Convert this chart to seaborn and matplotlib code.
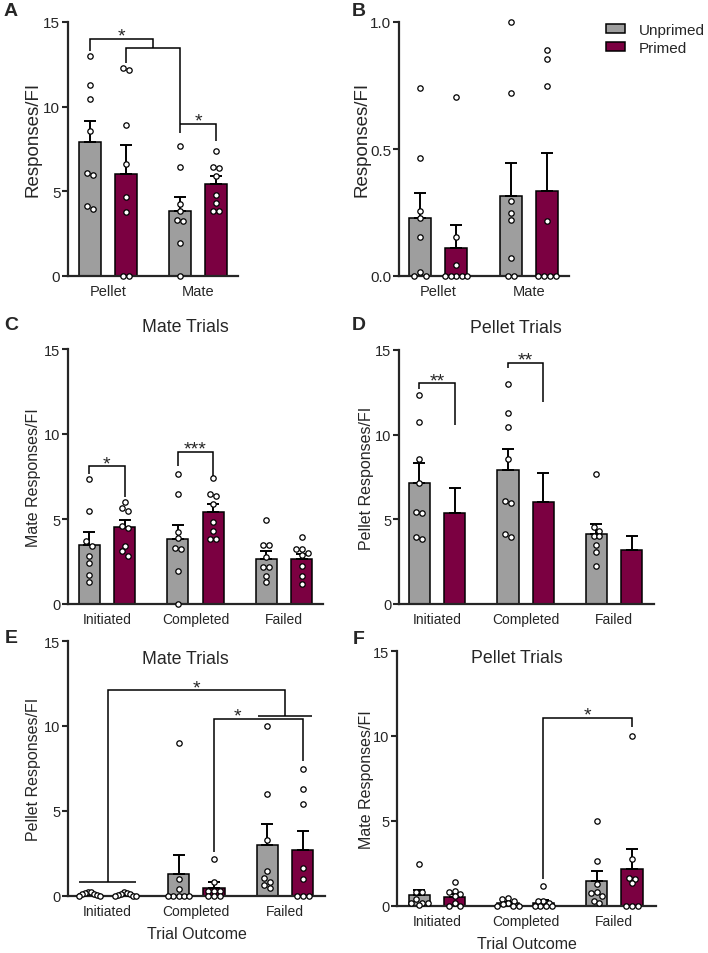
#!/usr/bin/env python3
"""Six-panel bar + scatter figure (Unprimed vs Primed responses/FI)."""

import warnings

import matplotlib
matplotlib.use('Agg')
import matplotlib.pyplot as plt
from matplotlib.patches import Patch
import numpy as np
import pandas as pd
import seaborn as sns

warnings.filterwarnings('ignore')

# ---------------------------------------------------------------- data
GROUPS = ['Unprimed', 'Primed']
COLORS = {'Unprimed': '#9e9e9e', 'Primed': '#7b0041'}
OFFSET = {'Unprimed': -0.2, 'Primed': 0.2}

# A: responses/FI by reward type
A_CATS = ['Pellet', 'Mate']
A_MEAN_U = [7.92, 3.82]
A_MEAN_P = [6.03, 5.42]
A_SEM_U = [1.21, 0.85]
A_SEM_P = [1.73, 0.48]
A_PTS_U = [[13.0, 11.3, 10.45, 8.55, 6.1, 5.95, 4.15, 3.95],
           [7.65, 6.45, 4.25, 3.86, 3.3, 3.22, 1.96, 0.0]]
A_PTS_P = [[12.3, 12.15, 8.9, 6.6, 4.65, 3.8, 0.0, 0.0],
           [7.4, 6.45, 6.35, 5.9, 4.8, 4.3, 3.85, 3.85]]

# B
B_CATS = ['Pellet', 'Mate']
B_MEAN_U = [0.23, 0.315]
B_MEAN_P = [0.112, 0.335]
B_SEM_U = [0.095, 0.13]
B_SEM_P = [0.088, 0.15]
B_PTS_U = [[0.74, 0.465, 0.255, 0.23, 0.155, 0.015, 0.0, 0.0],
           [1.0, 0.72, 0.295, 0.25, 0.22, 0.07, 0.0, 0.0]]
B_PTS_P = [[0.705, 0.155, 0.045, 0.0, 0.0, 0.0, 0.0, 0.0],
           [0.89, 0.855, 0.75, 0.215, 0.0, 0.0, 0.0, 0.0]]

OUTCOMES = ['Initiated', 'Completed', 'Failed']

# C: mate trials, mate responses
C_MEAN_U = [3.47, 3.82, 2.65]
C_MEAN_P = [4.51, 5.42, 2.65]
C_SEM_U = [0.78, 0.85, 0.49]
C_SEM_P = [0.45, 0.48, 0.30]
C_PTS_U = [[7.35, 5.47, 3.7, 3.43, 2.85, 2.4, 1.73, 1.27],
           [7.65, 6.45, 4.25, 3.86, 3.3, 3.22, 1.96, 0.0],
           [4.96, 3.5, 3.5, 2.75, 2.2, 2.2, 1.67, 1.27]]
C_PTS_P = [[6.0, 5.65, 5.45, 4.6, 4.5, 3.4, 3.1, 2.85],
           [7.4, 6.45, 6.35, 5.9, 4.8, 4.3, 3.85, 3.85],
           [3.95, 3.25, 3.25, 3.0, 2.9, 2.25, 1.65, 1.15]]

# D: pellet trials, pellet responses (no primed points shown)
D_MEAN_U = [7.14, 7.92, 4.11]
D_MEAN_P = [5.37, 6.03, 3.2]
D_SEM_U = [1.16, 1.21, 0.61]
D_SEM_P = [1.47, 1.73, 0.83]
D_PTS_U = [[12.35, 10.75, 8.55, 7.15, 5.45, 5.4, 3.95, 3.85],
           [13.0, 11.3, 10.45, 8.55, 6.1, 5.95, 4.15, 3.95],
           [7.67, 4.52, 4.3, 4.0, 4.0, 3.5, 3.05, 2.26]]
D_PTS_P = [[], [], []]

# E: mate trials, pellet responses
E_MEAN_U = [0.11, 1.28, 2.98]
E_MEAN_P = [0.08, 0.49, 2.7]
E_SEM_U = [0.03, 1.13, 1.24]
E_SEM_P = [0.03, 0.33, 1.14]
E_PTS_U = [[0.25, 0.22, 0.2, 0.12, 0.1, 0.05, 0.0, 0.0],
           [9.0, 1.02, 0.43, 0.0, 0.0, 0.0, 0.0, 0.0],
           [10.0, 6.0, 3.3, 1.5, 1.05, 0.85, 0.65, 0.5]]
E_PTS_P = [[0.22, 0.15, 0.12, 0.1, 0.05, 0.0, 0.0, 0.0],
           [2.2, 0.82, 0.3, 0.3, 0.3, 0.0, 0.0, 0.0],
           [7.5, 6.3, 5.4, 1.67, 1.02, 0.0, 0.0, 0.0]]

# F: pellet trials, mate responses
F_MEAN_U = [0.63, 0.15, 1.45]
F_MEAN_P = [0.55, 0.2, 2.16]
F_SEM_U = [0.3, 0.06, 0.6]
F_SEM_P = [0.17, 0.18, 1.17]
F_PTS_U = [[2.5, 0.85, 0.8, 0.4, 0.15, 0.15, 0.15, 0.05],
           [0.5, 0.4, 0.3, 0.2, 0.1, 0.0, 0.0, 0.0],
           [5.0, 2.65, 1.3, 0.85, 0.75, 0.6, 0.3, 0.15]]
F_PTS_P = [[1.43, 0.88, 0.8, 0.73, 0.59, 0.2, 0.0, 0.0],
           [1.18, 0.3, 0.3, 0.15, 0.0, 0.0, 0.0, 0.0],
           [10.0, 2.78, 1.67, 1.6, 1.37, 0.0, 0.0, 0.0]]

W, H = 708, 954


def fig_rect(left, top, right, bottom):
    """Pixel box -> figure fraction rect."""
    return [left / W, 1 - bottom / H, (right - left) / W, (bottom - top) / H]


def pos(i, g):
    return i + OFFSET[g]


def column_offsets(vals, tol, step=0.065, half=0.12):
    """Spread points that would overlap side by side (column scatter).

    Within a cluster the highest values go to the middle, the rest
    alternate outwards.
    """
    vals = np.asarray(vals, float)
    order = np.argsort(-vals, kind='stable')
    offs = np.zeros(len(vals))
    i = 0
    while i < len(order):
        j = i
        while j + 1 < len(order) and vals[order[i]] - vals[order[j + 1]] < tol:
            j += 1
        k = j - i + 1
        if k > 1:
            sp = min(step, 2 * half / (k - 1))
            slots = (np.arange(k) - (k - 1) / 2) * sp
            slots = slots[np.argsort(np.abs(slots) + 1e-9 * slots, kind='stable')]
            offs[order[i:j + 1]] = slots
        i = j + 1
    return offs


def draw_panel(ax, cats, mean_u, mean_p, sem_u, sem_p, pts_u, pts_p, ytop):
    means = pd.DataFrame(
        [(c, 'Unprimed', m) for c, m in zip(cats, mean_u)]
        + [(c, 'Primed', m) for c, m in zip(cats, mean_p)],
        columns=['cat', 'group', 'value'])

    sns.barplot(data=means, x='cat', y='value', hue='group', order=cats,
                hue_order=GROUPS, palette=COLORS, saturation=1, width=0.8,
                gap=0.4, edgecolor='black', linewidth=1.1, errorbar=None,
                legend=False, ax=ax)

    for g, m, s in (('Unprimed', mean_u, sem_u), ('Primed', mean_p, sem_p)):
        x = np.arange(len(cats)) + OFFSET[g]
        ax.errorbar(x, m, yerr=[np.zeros(len(s)), s], fmt='none',
                    ecolor='black', elinewidth=1.4, capsize=4.5, capthick=1.4,
                    zorder=2)

    # individual animals
    tol = ytop / 255 * 4.6
    xs, ys = [], []
    for g, pts in (('Unprimed', pts_u), ('Primed', pts_p)):
        for i, vals in enumerate(pts):
            if not vals:
                continue
            xs.extend(pos(i, g) + column_offsets(vals, tol))
            ys.extend(vals)
    if xs:
        sns.scatterplot(x=xs, y=ys, color='white', edgecolor='black', s=15,
                        linewidth=0.9, legend=False, zorder=4, clip_on=False,
                        ax=ax)


def style_axes(ax, ylim, yticks, ylabel, ylab_size, tick_size, xtick_size,
               ylab_x, ylab_y=0.5, fmt=None):
    ax.set_ylim(*ylim)
    ax.set_yticks(yticks)
    if fmt:
        ax.set_yticklabels([fmt.format(t) for t in yticks])
    ax.set_xlabel('')
    ax.set_ylabel(ylabel, fontsize=ylab_size)
    ax.yaxis.set_label_coords(ylab_x, ylab_y)
    for side in ('top', 'right'):
        ax.spines[side].set_visible(False)
    for side in ('left', 'bottom'):
        ax.spines[side].set_linewidth(1.6)
    ax.tick_params(axis='y', length=4, width=1.5, pad=1.5, labelsize=tick_size)
    ax.tick_params(axis='x', length=0, pad=6, labelsize=xtick_size)


def bracket(ax, xs, ys):
    ax.plot(xs, ys, color='black', lw=1.1, clip_on=False, zorder=5,
            solid_joinstyle='miter', solid_capstyle='butt')


def star(ax, x, y, s='*', size=14):
    ax.text(x, y - 0.35 * (ax.get_ylim()[1] / 15), s, ha='center',
            va='bottom', fontsize=size, zorder=6)


def main():
    sns.set_theme(style='ticks')
    plt.rcParams['font.family'] = ['Liberation Sans', 'DejaVu Sans']

    fig = plt.figure(figsize=(W / 100, H / 100), dpi=100)

    # ---------------- A
    ax = fig.add_axes(fig_rect(68, 23, 238, 277))
    draw_panel(ax, A_CATS, A_MEAN_U, A_MEAN_P, A_SEM_U, A_SEM_P,
               A_PTS_U, A_PTS_P, 15)
    style_axes(ax, (0, 15), [0, 5, 10, 15], 'Responses/FI', 13.5, 11, 10.5,
               -0.155, 0.54)
    ax.set_xlim(-0.44, 1.44)
    u0, p0, u1, p1 = pos(0, 'Unprimed'), pos(0, 'Primed'), pos(1, 'Unprimed'), pos(1, 'Primed')
    mid = (p0 + u1) / 2
    bracket(ax, [u0, u0, mid, mid], [13.3, 14.0, 14.0, 13.45])
    bracket(ax, [p0, p0, u1, u1], [12.6, 13.45, 13.45, 8.45])
    bracket(ax, [u1, p1, p1], [9.0, 9.0, 7.95])
    star(ax, (u0 + mid) / 2, 14.0)
    star(ax, (u1 + p1) / 2, 9.0)

    # ---------------- B
    ax = fig.add_axes(fig_rect(399, 23, 569, 277))
    draw_panel(ax, B_CATS, B_MEAN_U, B_MEAN_P, B_SEM_U, B_SEM_P,
               B_PTS_U, B_PTS_P, 1.0)
    style_axes(ax, (0, 1.0), [0.0, 0.5, 1.0], 'Responses/FI', 13.5, 11, 10.5,
               -0.165, 0.54, fmt='{:.1f}')
    ax.set_xlim(-0.43, 1.44)

    handles = [Patch(facecolor=COLORS[g], edgecolor='black', linewidth=1.1)
               for g in GROUPS]
    fig.legend(handles, GROUPS, loc='upper left',
               bbox_to_anchor=(606 / W, 1 - 24 / H), frameon=False,
               fontsize=11, handlelength=1.25, handleheight=0.55,
               handletextpad=0.9, labelspacing=0.25, borderpad=0,
               borderaxespad=0)

    # ---------------- C
    ax = fig.add_axes(fig_rect(68, 350, 323, 605))
    draw_panel(ax, OUTCOMES, C_MEAN_U, C_MEAN_P, C_SEM_U, C_SEM_P,
               C_PTS_U, C_PTS_P, 15)
    style_axes(ax, (0, 15), [0, 5, 10, 15], 'Mate Responses/FI', 11.5, 10.5,
               10, -0.106)
    ax.set_xlim(-0.44, 2.44)
    ax.text(0.459, 1.09, 'Mate Trials', transform=ax.transAxes, ha='center',
            va='center', fontsize=12.8)
    bracket(ax, [pos(0, 'Unprimed')] * 2 + [pos(0, 'Primed')] * 2,
            [7.65, 8.1, 8.1, 6.27])
    star(ax, 0, 8.1)
    bracket(ax, [pos(1, 'Unprimed')] * 2 + [pos(1, 'Primed')] * 2,
            [8.14, 8.96, 8.96, 7.55])
    star(ax, 1, 8.96, '***')

    # ---------------- D
    ax = fig.add_axes(fig_rect(399, 351, 654, 605))
    draw_panel(ax, OUTCOMES, D_MEAN_U, D_MEAN_P, D_SEM_U, D_SEM_P,
               D_PTS_U, D_PTS_P, 15)
    style_axes(ax, (0, 15), [0, 5, 10, 15], 'Pellet Responses/FI', 11.5, 10.5,
               10, -0.098)
    ax.set_xlim(-0.43, 2.45)
    ax.text(0.459, 1.09, 'Pellet Trials', transform=ax.transAxes, ha='center',
            va='center', fontsize=12.8)
    bracket(ax, [pos(0, 'Unprimed')] * 2 + [pos(0, 'Primed')] * 2,
            [12.68, 13.03, 13.03, 10.6])
    star(ax, 0, 13.03, '**')
    bracket(ax, [pos(1, 'Unprimed')] * 2 + [pos(1, 'Primed')] * 2,
            [13.96, 14.25, 14.25, 11.9])
    star(ax, 1, 14.25, '**')

    # ---------------- E
    ax = fig.add_axes(fig_rect(68, 642, 325, 897))
    draw_panel(ax, OUTCOMES, E_MEAN_U, E_MEAN_P, E_SEM_U, E_SEM_P,
               E_PTS_U, E_PTS_P, 15)
    style_axes(ax, (0, 15), [0, 5, 10, 15], 'Pellet Responses/FI', 11.5, 10.5,
               10, -0.105)
    ax.set_xlim(-0.445, 2.45)
    ax.set_xlabel('Trial Outcome', fontsize=11.5)
    ax.xaxis.set_label_coords(0.5, -0.118)
    ax.text(0.455, 0.933, 'Mate Trials', transform=ax.transAxes, ha='center',
            va='center', fontsize=12.8)
    bracket(ax, [-0.32, 0.32], [0.82, 0.82])
    bracket(ax, [0, 0, 2, 2], [0.82, 12.1, 12.1, 10.59])
    bracket(ax, [1.7, 2.3], [10.59, 10.59])
    star(ax, 1.0, 12.1)
    bracket(ax, [pos(1, 'Primed')] * 2 + [pos(2, 'Primed')] * 2,
            [2.6, 10.43, 10.43, 7.94])
    star(ax, 1.46, 10.43)

    # ---------------- F
    ax = fig.add_axes(fig_rect(397, 652, 656, 907))
    draw_panel(ax, OUTCOMES, F_MEAN_U, F_MEAN_P, F_SEM_U, F_SEM_P,
               F_PTS_U, F_PTS_P, 15)
    style_axes(ax, (0, 15), [0, 5, 10, 15], 'Mate Responses/FI', 11.5, 10.5,
               10, -0.089)
    ax.set_xlim(-0.45, 2.47)
    ax.set_xlabel('Trial Outcome', fontsize=11.5)
    ax.xaxis.set_label_coords(0.5, -0.118)
    ax.text(0.463, 0.973, 'Pellet Trials', transform=ax.transAxes, ha='center',
            va='center', fontsize=12.8)
    bracket(ax, [pos(1, 'Primed')] * 2 + [pos(2, 'Primed')] * 2,
            [1.57, 11.08, 11.08, 10.55])
    star(ax, 1.7, 11.08)

    # panel letters
    for letter, x, y in (('A', 11, 11), ('B', 359, 11), ('C', 11, 325),
                         ('D', 359, 326), ('E', 11, 639), ('F', 359, 640)):
        fig.text(x / W, 1 - y / H, letter, ha='center', va='center',
                 fontsize=14, fontweight='bold')

    fig.savefig('out.png', dpi=100)
    plt.close(fig)


if __name__ == '__main__':
    main()
